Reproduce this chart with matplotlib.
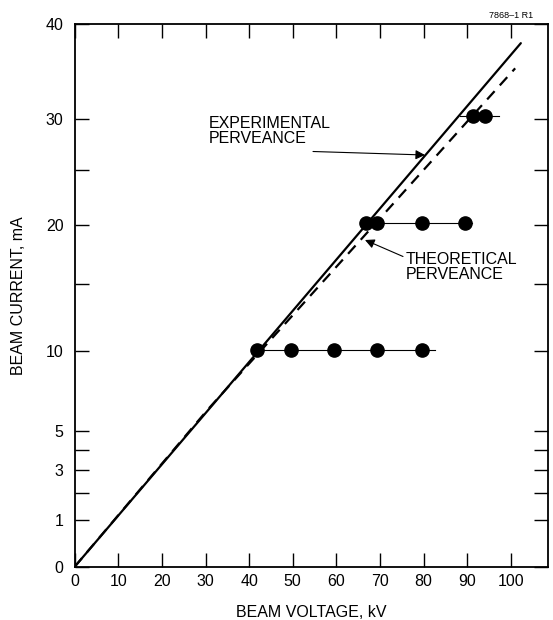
import numpy as np
import matplotlib
matplotlib.use("Agg")
import matplotlib.pyplot as plt

plt.rcParams['font.family'] = ['Liberation Sans', 'DejaVu Sans']

# perveance lines (voltage kV, current mA)
exp_v = [0, 102.3]
exp_i = [0, 37.9]
theo_v = [0, 30.4, 101.0]
theo_i = [0, 6.2, 35.2]

# measured points at constant current
v10 = [41.9, 49.5, 59.5, 69.4, 79.6]
i10 = 10.1
v20 = [66.7, 69.4, 79.6, 89.5]
i20 = 20.2
v30 = [91.4, 94.1]
i30 = 30.3
# horizontal line extents for each row
span10 = [41.9, 82.6]
span20 = [66.7, 91.0]
span30 = [88.4, 97.2]

xticks = [0, 10, 20, 30, 40, 50, 60, 70, 80, 90, 100]
yticks = [0, 1, 3, 5, 10, 20, 30, 40]
yminor = [2, 4, 15, 25]


def fwd(y):
    y = np.asarray(y, dtype=float)
    return np.sign(y) * np.abs(y) ** (2 / 3)


def inv(y):
    y = np.asarray(y, dtype=float)
    return np.sign(y) * np.abs(y) ** 1.5


fig = plt.figure(figsize=(5.53, 6.20), dpi=100)
ax = fig.add_axes([74.7 / 553, 53.3 / 620, (548.3 - 74.7) / 553, (566.7 - 24) / 620])
ax.set_yscale('function', functions=(fwd, inv))

ax.plot(exp_v, exp_i, color='black', lw=1.6, solid_capstyle='round')
ax.plot(theo_v, theo_i, color='black', lw=1.6, dashes=(5, 3.5))

for span, val in [(span10, i10), (span20, i20), (span30, i30)]:
    ax.plot(span, [val, val], color='black', lw=0.8)
for vs, val in [(v10, i10), (v20, i20), (v30, i30)]:
    ax.plot(vs, [val] * len(vs), 'o', color='black', ms=9.5, ls='none')

ax.set_xlim(0, 108.6)
ax.set_ylim(0, 40)
ax.set_xticks(xticks)
ax.set_xticklabels([str(t) for t in xticks])
ax.set_yticks(yticks)
ax.set_yticklabels([str(t) for t in yticks])
ax.yaxis.set_minor_locator(plt.FixedLocator(yminor))
ax.xaxis.set_minor_locator(plt.NullLocator())
ax.tick_params(axis='both', which='both', direction='in', length=10, width=1.0,
               top=True, right=True, labelsize=11.5)
ax.tick_params(axis='x', pad=5)
ax.tick_params(axis='y', pad=8)
for sp in ax.spines.values():
    sp.set_linewidth(1.3)

ax.set_xlabel('BEAM VOLTAGE, kV', fontsize=11.5, labelpad=12)
ax.set_ylabel('BEAM CURRENT, mA', fontsize=11.5, labelpad=14)

ax.text(209, 620 - 116, 'EXPERIMENTAL\nPERVEANCE', transform=None,
        fontsize=11.5, ha='left', va='top', linespacing=1.0)
ax.annotate('', xy=(425, 620 - 155), xycoords='figure pixels',
            xytext=(313, 620 - 151.5), textcoords='figure pixels',
            arrowprops=dict(arrowstyle='-|>', color='black', lw=0.8,
                            mutation_scale=14, shrinkA=0, shrinkB=0))
ax.text(406, 620 - 252, 'THEORETICAL\nPERVEANCE', transform=None,
        fontsize=11.5, ha='left', va='top', linespacing=1.0)
ax.annotate('', xy=(365, 620 - 240), xycoords='figure pixels',
            xytext=(403, 620 - 256.5), textcoords='figure pixels',
            arrowprops=dict(arrowstyle='-|>', color='black', lw=0.8,
                            mutation_scale=14, shrinkA=0, shrinkB=0))

fig.text(533 / 553, 1 - 16 / 620, '7868\u20131 R1', fontsize=6.5, ha='right', va='center')

fig.savefig('out.png', dpi=100)
